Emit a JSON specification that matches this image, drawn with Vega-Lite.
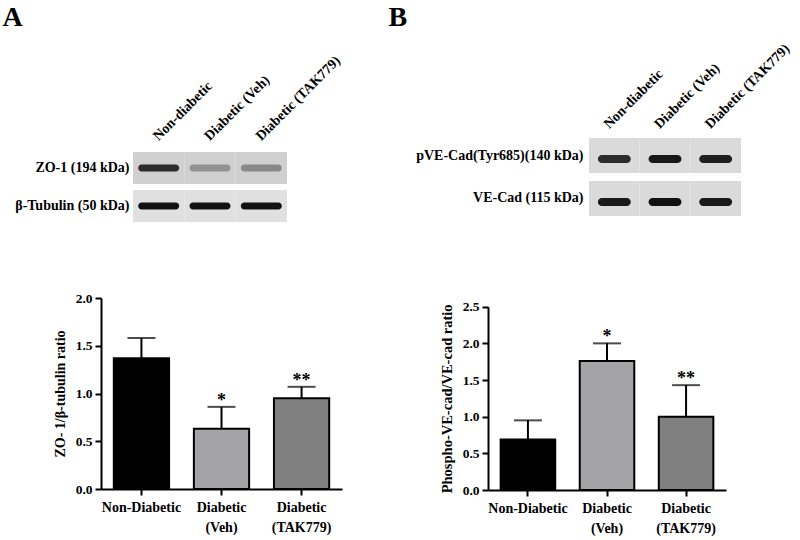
{
  "$schema": "https://vega.github.io/schema/vega-lite/v6.json",
  "width": 800,
  "height": 540,
  "padding": 0,
  "autosize": "none",
  "background": "white",
  "config": {
    "view": {"stroke": null},
    "font": "Liberation Serif",
    "axis": {
      "labelFont": "Liberation Serif",
      "titleFont": "Liberation Serif",
      "labelFontWeight": "bold",
      "titleFontWeight": "bold",
      "labelColor": "black",
      "titleColor": "black",
      "grid": false
    }
  },
  "datasets": {
    "blotA": [
      {"protein": "ZO-1 (194 kDa)", "lane": "Non-diabetic", "intensity": 0.85},
      {"protein": "ZO-1 (194 kDa)", "lane": "Diabetic (Veh)", "intensity": 0.35},
      {"protein": "ZO-1 (194 kDa)", "lane": "Diabetic (TAK779)", "intensity": 0.4},
      {"protein": "β-Tubulin  (50 kDa)", "lane": "Non-diabetic", "intensity": 1},
      {"protein": "β-Tubulin  (50 kDa)", "lane": "Diabetic (Veh)", "intensity": 1},
      {"protein": "β-Tubulin  (50 kDa)", "lane": "Diabetic (TAK779)", "intensity": 1}
    ],
    "blotB": [
      {"protein": "pVE-Cad(Tyr685)(140  kDa)", "lane": "Non-diabetic", "intensity": 0.85},
      {"protein": "pVE-Cad(Tyr685)(140  kDa)", "lane": "Diabetic (Veh)", "intensity": 0.97},
      {"protein": "pVE-Cad(Tyr685)(140  kDa)", "lane": "Diabetic (TAK779)", "intensity": 0.92},
      {"protein": "VE-Cad  (115 kDa)", "lane": "Non-diabetic", "intensity": 0.95},
      {"protein": "VE-Cad  (115 kDa)", "lane": "Diabetic (Veh)", "intensity": 1},
      {"protein": "VE-Cad  (115 kDa)", "lane": "Diabetic (TAK779)", "intensity": 0.95}
    ],
    "barA": [
      {"group": "Non-Diabetic", "mean": 1.37, "upper": 1.58, "sig": ""},
      {"group": "Diabetic (Veh)", "mean": 0.63, "upper": 0.86, "sig": "*"},
      {"group": "Diabetic (TAK779)", "mean": 0.95, "upper": 1.07, "sig": "**"}
    ],
    "barB": [
      {"group": "Non-Diabetic", "mean": 0.69, "upper": 0.95, "sig": ""},
      {"group": "Diabetic (Veh)", "mean": 1.76, "upper": 2.0, "sig": "*"},
      {"group": "Diabetic (TAK779)", "mean": 1.0, "upper": 1.43, "sig": "**"}
    ]
  },
  "layer": [
    {
      "data": {"name": "blotA"},
      "encoding": {
        "x": {
          "field": "lane", "type": "nominal", "sort": null,
          "scale": {"range": [133, 287], "paddingInner": 0, "paddingOuter": 0},
          "axis": {"orient": "top", "offset": -152, "title": null, "domain": false, "ticks": false,
                   "labelAngle": -45, "labelAlign": "left", "labelBaseline": "middle",
                   "labelPadding": 14, "labelOffset": -3, "labelFontSize": 14, "labelLimit": 0}
        },
        "y": {
          "field": "protein", "type": "nominal", "sort": null,
          "scale": {"range": [152, 222], "paddingInner": 0.158, "paddingOuter": 0},
          "axis": {"orient": "left", "offset": -133, "domain": false, "ticks": false,
                   "labelPadding": 4, "labelFontSize": 14, "labelLimit": 0,
                   "title": "A", "titleAngle": 0, "titleX": -131, "titleY": 25,
                   "titleAlign": "left", "titleBaseline": "alphabetic", "titleFontSize": 28}
        }
      },
      "layer": [
        {
          "mark": {"type": "rect"},
          "encoding": {
            "fill": {"field": "protein", "type": "nominal", "sort": null,
                     "scale": {"range": ["#d0d0d0", "#e0e0e0"]}, "legend": null}
          }
        },
        {
          "mark": {"type": "rect", "width": {"band": 0.8}, "height": 7, "cornerRadius": 3.5},
          "encoding": {
            "yOffset": {"value": 16},
            "color": {"field": "intensity", "type": "quantitative",
                      "scale": {"domain": [0, 1], "range": ["#e6e6e6", "#111111"]}, "legend": null}
          }
        }
      ]
    },
    {
      "data": {"name": "blotB"},
      "encoding": {
        "x": {
          "field": "lane", "type": "nominal", "sort": null,
          "scale": {"range": [589, 741], "paddingInner": 0, "paddingOuter": 0},
          "axis": {"orient": "top", "offset": -138, "title": null, "domain": false, "ticks": false,
                   "labelAngle": -45, "labelAlign": "left", "labelBaseline": "middle",
                   "labelPadding": 12, "labelOffset": -8, "labelFontSize": 14, "labelLimit": 0}
        },
        "y": {
          "field": "protein", "type": "nominal", "sort": null,
          "scale": {"range": [138, 216], "paddingInner": 0.186, "paddingOuter": 0},
          "axis": {"orient": "left", "offset": -589, "domain": false, "ticks": false,
                   "labelPadding": 6, "labelFontSize": 14, "labelLimit": 0,
                   "title": "B", "titleAngle": 0, "titleX": -201, "titleY": 25,
                   "titleAlign": "left", "titleBaseline": "alphabetic", "titleFontSize": 28}
        }
      },
      "layer": [
        {"mark": {"type": "rect", "fill": "#dadada"}},
        {
          "mark": {"type": "rect", "width": {"band": 0.65}, "height": 8, "cornerRadius": 4},
          "encoding": {
            "yOffset": {"value": 21},
            "color": {"field": "intensity", "type": "quantitative",
                      "scale": {"domain": [0, 1], "range": ["#e6e6e6", "#111111"]}, "legend": null}
          }
        }
      ]
    },
    {
      "data": {"name": "barA"},
      "encoding": {
        "x": {
          "field": "group", "type": "nominal", "sort": null,
          "scale": {"range": [101, 342], "paddingInner": 0.31, "paddingOuter": 0.16},
          "axis": {"orient": "bottom", "offset": -51, "title": null, "labelAngle": 0,
                   "domainColor": "black", "domainWidth": 2, "tickColor": "black", "tickWidth": 2, "tickSize": 6,
                   "labelPadding": 5, "labelFontSize": 14, "labelLineHeight": 20, "labelBaseline": "top",
                   "labelExpr": "datum.value == 'Non-Diabetic' ? datum.value : split(datum.value, ' ')"}
        },
        "y": {
          "field": "mean", "type": "quantitative",
          "scale": {"domain": [0, 2], "range": [489, 298], "nice": false},
          "axis": {"orient": "left", "offset": -101, "title": "ZO- 1/β-tubulin ratio", "titleFontSize": 14,
                   "titlePadding": 8, "values": [0, 0.5, 1, 1.5, 2], "format": ".1f",
                   "domainColor": "black", "domainWidth": 2, "tickColor": "black", "tickWidth": 2, "tickSize": 6,
                   "labelPadding": 3, "labelFontSize": 13.5}
        }
      },
      "layer": [
        {
          "mark": {"type": "bar", "stroke": "black", "strokeWidth": 2},
          "encoding": {
            "fill": {"field": "group", "type": "nominal", "sort": null,
                     "scale": {"range": ["#000000", "#a4a4a6", "#808080"]}, "legend": null}
          }
        },
        {
          "mark": {"type": "rule", "strokeWidth": 2, "color": "black"},
          "encoding": {"y2": {"field": "upper"}}
        },
        {
          "mark": {"type": "tick", "orient": "horizontal", "size": 28, "thickness": 2, "color": "black"},
          "encoding": {"y": {"field": "upper", "type": "quantitative"}}
        },
        {
          "mark": {"type": "text", "baseline": "alphabetic", "dy": -1, "fontSize": 18, "fontWeight": "bold", "color": "black"},
          "encoding": {"y": {"field": "upper", "type": "quantitative"}, "text": {"field": "sig"}}
        }
      ]
    },
    {
      "data": {"name": "barB"},
      "encoding": {
        "x": {
          "field": "group", "type": "nominal", "sort": null,
          "scale": {"range": [488, 726], "paddingInner": 0.31, "paddingOuter": 0.16},
          "axis": {"orient": "bottom", "offset": -50, "title": null, "labelAngle": 0,
                   "domainColor": "black", "domainWidth": 2, "tickColor": "black", "tickWidth": 2, "tickSize": 6,
                   "labelPadding": 5, "labelFontSize": 14, "labelLineHeight": 20, "labelBaseline": "top",
                   "labelExpr": "datum.value == 'Non-Diabetic' ? datum.value : split(datum.value, ' ')"}
        },
        "y": {
          "field": "mean", "type": "quantitative",
          "scale": {"domain": [0, 2.5], "range": [490, 306.7], "nice": false},
          "axis": {"orient": "left", "offset": -488, "title": "Phospho-VE-cad/VE-cad ratio", "titleFontSize": 14.5,
                   "titlePadding": 8, "values": [0, 0.5, 1, 1.5, 2, 2.5], "format": ".1f",
                   "domainColor": "black", "domainWidth": 2, "tickColor": "black", "tickWidth": 2, "tickSize": 6,
                   "labelPadding": 3, "labelFontSize": 13.5}
        }
      },
      "layer": [
        {
          "mark": {"type": "bar", "stroke": "black", "strokeWidth": 2},
          "encoding": {
            "fill": {"field": "group", "type": "nominal", "sort": null,
                     "scale": {"range": ["#000000", "#a4a4a6", "#808080"]}, "legend": null}
          }
        },
        {
          "mark": {"type": "rule", "strokeWidth": 2, "color": "black"},
          "encoding": {"y2": {"field": "upper"}}
        },
        {
          "mark": {"type": "tick", "orient": "horizontal", "size": 28, "thickness": 2, "color": "black"},
          "encoding": {"y": {"field": "upper", "type": "quantitative"}}
        },
        {
          "mark": {"type": "text", "baseline": "alphabetic", "dy": -1, "fontSize": 18, "fontWeight": "bold", "color": "black"},
          "encoding": {"y": {"field": "upper", "type": "quantitative"}, "text": {"field": "sig"}}
        }
      ]
    }
  ],
  "resolve": {
    "scale": {"x": "independent", "y": "independent", "color": "independent", "fill": "independent"},
    "axis": {"x": "independent", "y": "independent"}
  }
}
